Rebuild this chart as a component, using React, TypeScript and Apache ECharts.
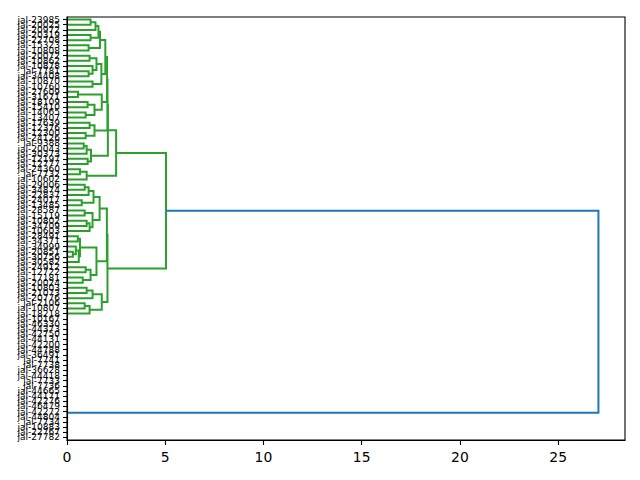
import React, { useEffect, useRef } from "react";
import * as echarts from "echarts";

type Tree = [Tree | number, Tree | number, number];

// Leaf labels, top to bottom as they appear
const leafLabels: string[] = [
  "jal-23985", "jal-20025", "jal-20972", "jal-20319", "jal-22708", "jal-15323",
  "jal-10808", "jal-20072", "jal-10862", "jal-10878", "jal-7781", "jal-34408",
  "jal-10870", "jal-10760", "jal-27609", "jal-31671", "jal-18109", "jal-15410",
  "jal-14065", "jal-13407", "jal-17639", "jal-12376", "jal-12300", "jal-24126",
  "jal-9388", "jal-20043", "jal-30373", "jal-12197", "jal-12777", "jal-24360",
  "jal-7732", "jal-10602", "jal-29006", "jal-34874", "jal-22837", "jal-24017",
  "jal-13485", "jal-28587", "jal-15119", "jal-10802", "jal-34709", "jal-10603",
  "jal-28491", "jal-34371", "jal-34999", "jal-20851", "jal-30756", "jal-30582",
  "jal-24912", "jal-12722", "jal-17181", "jal-20024", "jal-10803", "jal-21073",
  "jal-20776", "jal-2106", "jal-10807", "jal-18218", "jal-10167", "jal-46330",
  "jal-44373", "jal-42750", "jal-44131", "jal-42200", "jal-44788", "jal-36491",
  "jal-7741", "jal-7738", "jal-36628", "jal-44418", "jal-7733", "jal-7736",
  "jal-44665", "jal-44171", "jal-42276", "jal-46479", "jal-42272", "jal-44804",
  "jal-7734", "jal-10883", "jal-22767", "jal-27782",
];

// Merge tree: [child, child, height]; leaves are indices into leafLabels
const groupT1: Tree = [[[[0, 1, 1.2], 2, 1.45], [3, 4, 1.2], 1.6], [5, 6, 1.1], 1.68];
const groupT2: Tree = [[[7, 8, 1.15], [9, [10, 11, 1.1], 1.3], 1.5], [12, 13, 1.3], 1.75];
const groupT: Tree = [groupT1, groupT2, 1.95];
const groupY: Tree = [[14, 15, 0.56], [[16, 17, 1.05], [18, 19, 0.95], 1.4], 1.77];
const groupP: Tree = [groupT, groupY, 2.04];
const groupF: Tree = [[20, 21, 1.15], [22, 23, 0.95], 1.4];
const groupQ: Tree = [groupP, groupF, 2.06];
const groupH: Tree = [[[24, 25, 0.85], 26, 1.0], [27, 28, 1.05], 1.22];
const groupR: Tree = [groupQ, groupH, 2.08];
const groupE: Tree = [[29, 30, 0.66], 31, 1.0];
const upperCluster: Tree = [groupR, groupE, 2.5];

const groupM: Tree = [
  [[[32, 33, 0.9], 34, 1.1], [35, 36, 0.75], 1.35],
  [[37, 38, 0.9], [[39, 40, 1.0], 41, 1.15], 1.3],
  1.66,
];
const groupN: Tree = [
  [[42, 43, 0.55], [[44, [45, 46, 0.3], 0.45], 47, 0.6], 0.66],
  [[48, 49, 0.95], [50, 51, 0.8], 1.2],
  1.5,
];
const groupG1: Tree = [groupM, groupN, 2.03];
const groupK: Tree = [[[52, 53, 1.0], 54, 1.3], [[55, 56, 0.9], 57, 1.15], 1.77];
const lowerCluster: Tree = [groupG1, groupK, 2.06];

const greenCluster: Tree = [upperCluster, lowerCluster, 5.04];

const zeroX1: Tree = [
  [[[58, 59, 0], [60, 61, 0], 0], [[62, 63, 0], [64, 65, 0], 0], 0],
  [[[66, 67, 0], [68, 69, 0], 0], [[70, 71, 0], [72, 73, 0], 0], 0],
  0,
];
const zeroX2: Tree = [[[74, 75, 0], [76, 77, 0], 0], [[78, 79, 0], 80, 0], 0];
const zeroCluster: Tree = [[zeroX1, zeroX2, 0], 81, 0];

const rootTree: Tree = [zeroCluster, greenCluster, 27.05];

const aboveColor = "#1f77b4";
const palette = ["#ff7f0e", "#2ca02c", "#d62728", "#9467bd", "#8c564b", "#e377c2", "#7f7f7f", "#bcbd22", "#17becf"];

interface Link { hl: number; yl: number; h: number; yr: number; hr: number; color: string }

function buildLinks(root: Tree): Link[] {
  const N = leafLabels.length;
  const links: Link[] = [];
  const threshold = 0.7 * root[2];
  let colorIdx = 0;
  function walk(node: Tree | number, color: string | null): { y: number; h: number } {
    if (typeof node === "number") return { y: 10 * (N - 1 - node) + 5, h: 0 };
    const [l, r, h] = node;
    let own = color;
    if (own === null && h < threshold) own = palette[colorIdx++ % palette.length];
    const a = walk(l, own);
    const b = walk(r, own);
    links.push({ hl: a.h, yl: a.y, h, yr: b.y, hr: b.h, color: own ?? aboveColor });
    return { y: (a.y + b.y) / 2, h };
  }
  walk(root, null);
  return links;
}

export default function App() {
  const ref = useRef<HTMLDivElement>(null);
  useEffect(() => {
    if (!ref.current) return;
    const chart = echarts.init(ref.current, null, { renderer: "svg" });
    const N = leafLabels.length;
    const links = buildLinks(rootTree);
    const xMax = rootTree[2] * 1.05;
    const font = "DejaVu Sans";
    chart.setOption({
      animation: false,
      backgroundColor: "#ffffff",
      grid: { left: 67, right: 15, top: 17, bottom: 40, show: true, borderColor: "#000", borderWidth: 1.1, z: 0 },
      xAxis: {
        type: "value",
        min: 0,
        max: xMax,
        interval: 5,
        z: 10,
        axisLine: { show: true, lineStyle: { color: "#000", width: 1.1 } },
        axisTick: { show: true, length: 5, lineStyle: { color: "#000", width: 1.1 } },
        axisLabel: { color: "#000", fontSize: 13.9, margin: 9.5, fontFamily: font, showMaxLabel: false },
        splitLine: { show: false },
      },
      yAxis: [
        {
          type: "category",
          data: [...leafLabels].reverse(),
          z: 10,
          axisLine: { show: true, lineStyle: { color: "#000", width: 1.1 } },
          axisTick: { show: true, alignWithLabel: true, interval: 0, length: 4, lineStyle: { color: "#000", width: 1.1 } },
          axisLabel: { interval: 0, fontSize: 9, color: "#000", margin: 7, fontFamily: font },
          splitLine: { show: false },
        },
        { type: "value", min: 0, max: 10 * N, show: false },
      ],
      series: [
        {
          type: "custom",
          xAxisIndex: 0,
          yAxisIndex: 1,
          z: 2,
          encode: { x: [0, 2, 4], y: [1, 3] },
          data: links.map((k) => [k.hl, k.yl, k.h, k.yr, k.hr]),
          renderItem: (params: any, api: any) => {
            const link = links[params.dataIndex];
            // zero-height merges sit exactly under the left spine
            if (link.h === 0) return null;
            const p1 = api.coord([api.value(0), api.value(1)]);
            const p2 = api.coord([api.value(2), api.value(1)]);
            const p3 = api.coord([api.value(2), api.value(3)]);
            const p4 = api.coord([api.value(4), api.value(3)]);
            return {
              type: "polyline",
              shape: { points: [p1, p2, p3, p4] },
              style: { stroke: link.color, fill: null, lineWidth: 2 },
            };
          },
        },
      ],
    });
    return () => chart.dispose();
  }, []);
  return <div ref={ref} style={{ position: "fixed", left: 0, top: 0, width: 640, height: 480 }} />;
}
